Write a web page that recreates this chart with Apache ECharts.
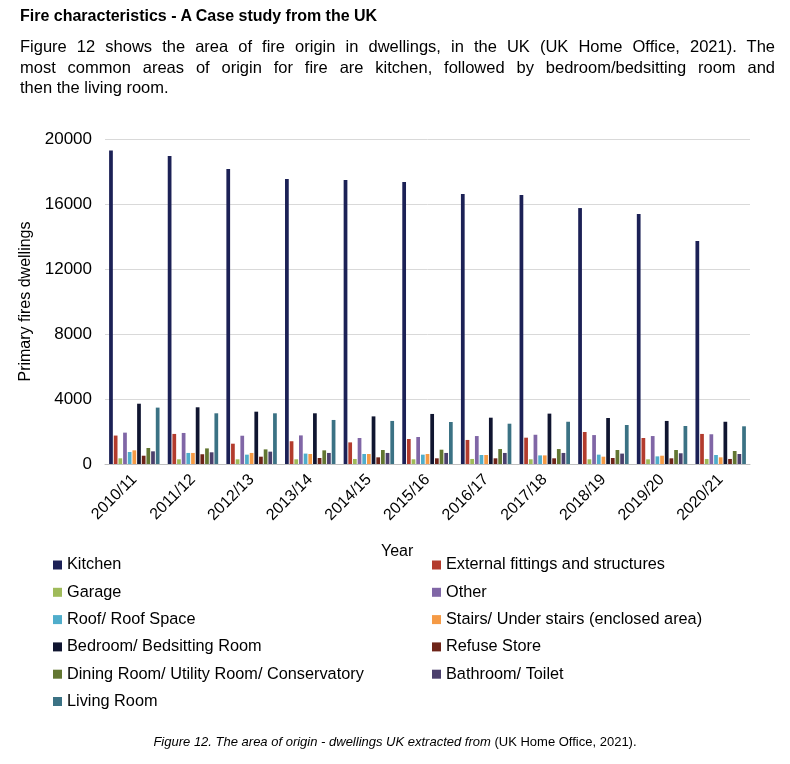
<!DOCTYPE html>
<html>
<head>
<meta charset="utf-8">
<script src="https://cdn.jsdelivr.net/npm/echarts@6/dist/echarts.min.js"></script>
<style>
  html, body { margin: 0; padding: 0; background: #fff; }
  body { width: 790px; height: 764px; position: relative; overflow: hidden; font-family: "Liberation Sans", Arial, sans-serif; color: #000; }
  #heading { position: absolute; left: 20px; top: 7px; font-size: 16px; font-weight: bold; }
  #para { position: absolute; left: 20px; top: 36px; width: 755px; font-size: 16.5px; line-height: 20.5px; }
  #para .j { text-align: justify; text-align-last: justify; white-space: nowrap; }
  #chart { position: absolute; left: 0; top: 0; width: 790px; height: 764px; }
  #caption { position: absolute; left: 0; width: 790px; top: 734px; text-align: center; font-size: 13px; }
</style>
</head>
<body>
<div id="chart"></div>
<div id="heading">Fire characteristics - A Case study from the UK</div>
<div id="para"><div class="j">Figure 12 shows the area of fire origin in dwellings, in the UK (UK Home Office, 2021). The</div><div class="j">most common areas of origin for fire are kitchen, followed by bedroom/bedsitting room and</div><div>then the living room.</div></div>
<div id="caption"><i>Figure 12. The area of origin - dwellings UK extracted from </i>(UK Home Office, 2021).</div>
<script>
const years = ['2010/11','2011/12','2012/13','2013/14','2014/15','2015/16','2016/17','2017/18','2018/19','2019/20','2020/21'];
const yTicks = [0, 4000, 8000, 12000, 16000, 20000];

const kitchen   = [19300, 18950, 18150, 17540, 17480, 17350, 16620, 16550, 15750, 15380, 13720];
const external  = [1750, 1850, 1250, 1400, 1330, 1540, 1480, 1620, 1970, 1600, 1850];
const garage    = [350, 290, 290, 290, 310, 290, 310, 290, 290, 290, 310];
const other     = [1930, 1910, 1740, 1760, 1600, 1660, 1720, 1800, 1780, 1720, 1830];
const roof      = [740, 680, 575, 640, 615, 575, 555, 530, 575, 470, 555];
const stairs    = [840, 680, 680, 615, 615, 615, 555, 530, 450, 510, 410];
const bedroom   = [3710, 3490, 3220, 3120, 2930, 3080, 2850, 3100, 2830, 2650, 2600];
const refuse    = [510, 600, 450, 370, 410, 350, 350, 350, 370, 350, 310];
const dining    = [985, 960, 900, 840, 860, 880, 920, 920, 860, 860, 800];
const bathroom  = [780, 720, 760, 680, 680, 680, 680, 680, 640, 660, 615];
const living    = [3470, 3120, 3120, 2710, 2650, 2585, 2480, 2600, 2400, 2340, 2320];

const seriesDefs = [
  ['Kitchen', kitchen, '#1c2156'],
  ['External fittings and structures', external, '#b33b2d'],
  ['Garage', garage, '#9fbb5a'],
  ['Other', other, '#8066a6'],
  ['Roof/ Roof Space', roof, '#4fadcb'],
  ['Stairs/ Under stairs (enclosed area)', stairs, '#f59a45'],
  ['Bedroom/ Bedsitting Room', bedroom, '#101530'],
  ['Refuse Store', refuse, '#6e2419'],
  ['Dining Room/ Utility Room/ Conservatory', dining, '#627631'],
  ['Bathroom/ Toilet', bathroom, '#4b3f6c'],
  ['Living Room', living, '#3b7284']
];

const chart = echarts.init(document.getElementById('chart'));
const FF = 'Liberation Sans, Arial, sans-serif';
const legendText = { fontFamily: FF, fontSize: 16.3, color: '#000', lineHeight: 16 };
const leftNames = seriesDefs.filter((d, i) => i % 2 === 0).map(d => d[0]);
const rightNames = seriesDefs.filter((d, i) => i % 2 === 1).map(d => d[0]);

chart.setOption({
  animation: false,
  grid: { left: 105, right: 40, top: 139, bottom: 300 },
  legend: [
    { orient: 'vertical', left: 53, top: 557, itemWidth: 9, itemHeight: 9, itemGap: 11.3, icon: 'rect', data: leftNames, textStyle: legendText, selectedMode: false, padding: 0 },
    { orient: 'vertical', left: 432, top: 557, itemWidth: 9, itemHeight: 9, itemGap: 11.3, icon: 'rect', data: rightNames, textStyle: legendText, selectedMode: false, padding: 0 }
  ],
  xAxis: {
    type: 'category',
    data: years,
    axisLine: { lineStyle: { color: '#bfbfbf' } },
    axisTick: { show: false },
    axisLabel: { rotate: 45, margin: 13, fontSize: 16, color: '#000', fontFamily: FF, interval: 0 }
  },
  yAxis: {
    type: 'value',
    min: 0, max: 20000, interval: 4000,
    name: 'Primary fires dwellings',
    nameLocation: 'middle',
    nameGap: 60,
    nameTextStyle: { fontSize: 16, color: '#000', fontFamily: FF },
    axisLine: { show: false },
    axisTick: { show: false },
    axisLabel: { margin: 13, fontSize: 17, color: '#000', fontFamily: FF, formatter: v => yTicks.includes(v) ? String(v) : '' },
    splitLine: { lineStyle: { color: '#d9d9d9', width: 1 } }
  },
  graphic: [
    { type: 'text', left: 381, top: 544, style: { text: 'Year', fontSize: 16, fill: '#000', fontFamily: FF } }
  ],
  series: seriesDefs.map(d => ({
    name: d[0],
    type: 'bar',
    data: d[1],
    barGap: '25%',
    barCategoryGap: '14%',
    itemStyle: { color: d[2] }
  }))
});
</script>
</body>
</html>
